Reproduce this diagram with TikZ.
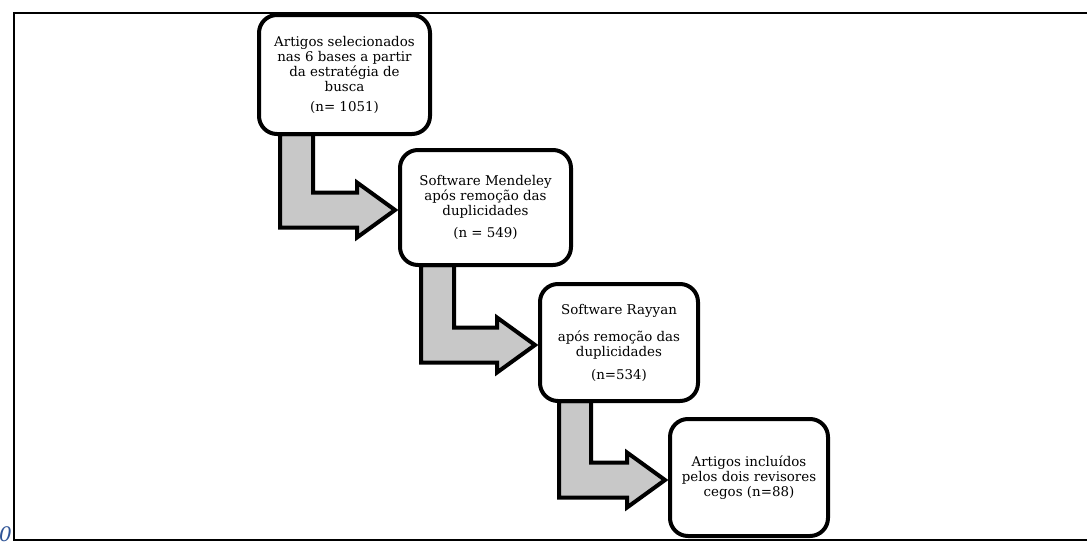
\documentclass[tikz,border=0pt]{standalone}
\usepackage{fontspec}
\setmainfont{DejaVu Serif}
\usetikzlibrary{calc}
\definecolor{arrowgray}{RGB}{200,200,200}
\definecolor{zeroblue}{RGB}{47,84,150}
\pgfdeclarelayer{bg}
\pgfsetlayers{bg,main}
\begin{document}
\begin{tikzpicture}[x=1pt,y=-1pt,
  stepbox/.style={draw, line width=4pt, rounded corners=18pt, fill=white, align=center,
    inner sep=0pt, outer sep=0pt, font=\fontsize{13.4}{15}\selectfont},
  widebox/.style={stepbox, minimum width=171pt},
  narrowbox/.style={stepbox, minimum width=158pt, minimum height=117pt},
  blockarrow/.style={draw, line width=4pt, fill=arrowgray, line join=miter},
  frameline/.style={line width=1.5pt}]
\useasboundingbox (0,0) rectangle (1087,541);

\draw[frameline] (1087,13) -- (14,13) -- (14,540) -- (1087,540);
\node[font=\itshape\fontsize{20}{20}\selectfont, text=zeroblue, anchor=base west, inner sep=0pt] (zero) at (-1,541) {0};

\node[widebox, minimum height=119pt] (b1) at (344.5,74.5)
  {Artigos selecionados\\ nas 6 bases a partir\\ da estratégia de\\ busca\\[5pt] (n= 1051)};
\node[widebox, minimum height=115pt] (b2) at (485.5,207.5)
  {Software Mendeley\\ após remoção das\\ duplicidades\\[7pt] (n = 549)};
\node[narrowbox] (b3) at (619,342.5)
  {Software Rayyan\\[12pt] após remoção das\\ duplicidades\\[8pt] (n=534)};
\node[narrowbox] (b4) at (749,477.5)
  {Artigos incluídos\\ pelos dois revisores\\ cegos (n=88)};

\begin{pgfonlayer}{bg}
\foreach \a/\b/\l/\r in {b1/b2/21/54, b2/b3/21/54, b3/b4/19/51} {
  \draw[blockarrow] let \p1=(\a.south west), \p2=($(\b.west)+(-5,2.5)$) in
    (\x1+\l pt,\y1) -- (\x1+\l pt,\y2-17.5pt) -- (\x2-38pt,\y2-17.5pt) -- (\x2-38pt,\y2-27.5pt)
    -- (\x2,\y2) -- (\x2-38pt,\y2+27.5pt) -- (\x2-38pt,\y2+17.5pt) -- (\x1+\r pt,\y2+17.5pt)
    -- (\x1+\r pt,\y1) -- cycle;
}
\end{pgfonlayer}
\end{tikzpicture}
\end{document}
